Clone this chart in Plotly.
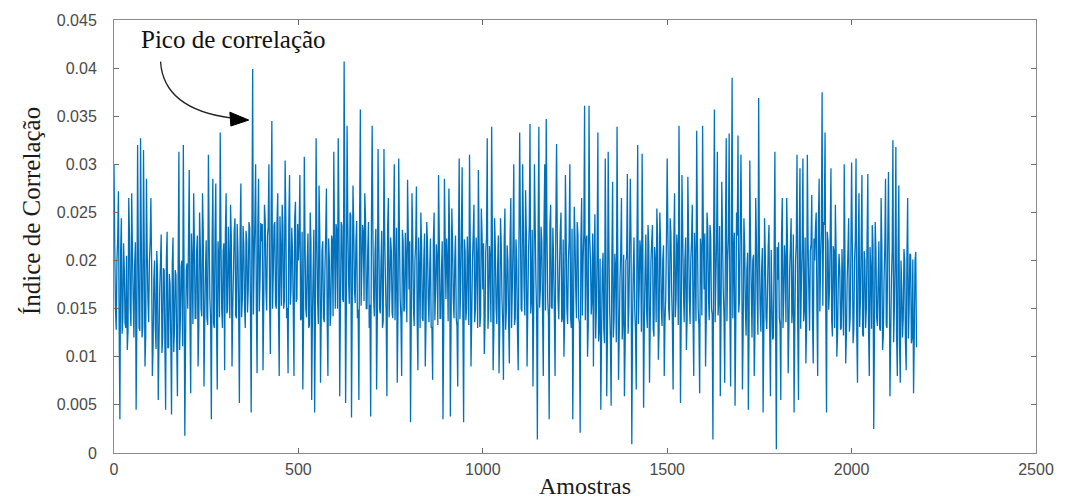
import plotly.graph_objects as go

# ---- data (in units of 1e-4) ----
# peaks / troughs every 4 samples
peaks_e4 = [
    # 0-96
    300,150,200,272,35,244,140,190,130,107,265,150,270,160,195,45,320,130,327,120,315,90,285,160,200,
    # 100-196
    265,80,180,130,210,55,170,227,120,190,45,230,110,175,40,224,130,185,59,313,140,200,320,18,190,
    # 200-296
    150,294,62,200,270,140,210,90,250,150,270,69,190,140,310,160,35,285,130,280,66,200,333,150,210,
    # 300-396
    86,270,150,200,258,90,190,244,140,210,52,280,160,215,130,220,170,234,42,399,200,300,83,285,180,
    # 400-496
    220,86,258,170,225,300,103,345,190,240,150,270,80,210,258,150,304,140,83,289,170,210,80,261,160,
    # 500-596
    200,289,140,66,308,150,200,130,250,55,190,42,327,160,278,73,210,140,190,275,80,200,145,220,313,
    # 600-696
    150,230,327,59,240,160,407,52,340,180,250,37,278,170,220,140,55,357,190,230,270,150,210,130,38,
    # 700-796
    340,160,210,66,316,150,200,130,316,180,59,265,170,210,140,300,190,73,306,160,80,220,150,200,284,
    # 800-896
    170,32,270,150,200,277,86,190,250,140,200,90,240,160,190,130,76,250,170,200,289,140,190,35,285,
    # 900-996
    160,200,275,38,254,160,200,140,69,306,170,297,32,210,150,190,310,90,200,258,150,200,294,131,254,
    # 1000-1096
    170,103,210,327,150,200,339,86,244,150,190,83,244,160,76,254,150,200,93,265,170,300,140,200,86,
    # 1100-1196
    333,150,300,170,273,90,210,342,160,69,300,180,14,339,170,220,80,300,347,160,35,258,150,200,80,
    # 1200-1296
    321,160,190,250,140,100,289,150,200,300,130,35,256,170,240,140,21,265,200,361,220,100,361,200,160,
    # 1300-1396
    90,248,150,333,130,45,190,130,306,59,313,150,49,282,140,190,339,76,180,265,140,59,200,290,150,
    # 1400-1496
    285,9,190,150,66,320,170,210,311,47,190,150,237,73,200,237,121,200,254,97,250,150,200,80,160,
    # 1500-1596
    306,150,244,170,66,270,160,210,340,52,289,170,200,107,287,160,200,258,80,200,335,150,62,210,340,
    # 1600-1696
    170,90,250,160,237,150,14,357,180,313,160,59,282,170,73,327,200,332,69,390,210,49,250,330,160,
    # 1700-1796
    310,66,244,150,190,45,304,170,200,80,265,160,369,150,190,42,244,140,170,237,59,160,120,313,4,
    # 1800-1896
    180,140,55,265,160,200,265,83,190,244,150,42,200,310,55,296,180,306,150,93,310,170,210,268,93,
    # 1900-1996
    200,250,80,285,200,375,240,333,42,220,170,296,121,210,258,100,180,189,130,170,300,93,180,244,140,
    # 2000-2096
    302,114,200,306,73,270,160,289,121,200,150,290,80,190,237,25,240,140,180,130,265,107,180,285,130,
    # 2100-2176
    292,59,180,325,150,318,80,278,73,170,140,200,86,265,150,206,120,62,200,110,
]
# dense core of the signal, the samples in between (2, 6, 10, ...)
core_e4 = [
    215,128,222,130,210,124,218,135,205,126,225,132,212,120,219,138,208,127,224,131,214,122,209,136,218,
    195,110,200,108,188,115,198,104,192,112,201,109,186,117,196,105,190,113,199,107,194,111,187,116,197,
    222,137,228,134,219,140,226,131,215,142,230,136,221,133,224,139,217,135,229,132,220,141,225,130,218,
    228,145,235,140,226,150,232,143,238,148,229,141,236,152,231,146,240,149,233,144,242,151,236,147,239,
    238,152,242,148,235,156,245,150,237,155,240,149,246,153,236,158,243,151,239,154,234,150,244,157,238,
    225,138,230,135,222,141,228,133,219,140,232,137,224,134,227,143,220,136,229,139,223,132,226,142,221,
    238,150,244,152,236,157,242,148,239,155,247,151,235,156,241,149,245,153,237,158,243,150,240,154,236,
    228,142,233,139,225,145,231,137,227,144,236,141,224,146,230,138,234,143,226,140,232,147,229,136,227,
    220,135,226,132,218,139,224,130,216,137,228,134,219,136,223,131,221,138,217,133,225,140,220,129,222,
    223,137,229,134,220,140,226,132,218,139,231,135,222,138,225,133,219,141,227,136,224,130,221,142,226,
    218,132,223,129,215,136,221,127,214,134,226,131,217,135,220,128,216,137,224,130,219,133,222,126,217,
    233,147,238,143,229,150,236,145,232,149,241,144,230,151,235,146,239,148,231,142,237,152,234,145,236,
    225,139,231,136,222,142,228,134,220,141,233,137,224,140,227,135,221,143,229,138,226,132,223,144,228,
    205,119,210,116,202,122,208,114,200,121,213,117,204,120,207,115,201,123,209,118,206,112,203,124,208,
    218,131,224,128,215,134,221,126,213,133,227,130,217,135,220,129,214,136,223,127,219,132,216,137,222,
    225,138,230,135,222,141,227,133,219,140,232,136,224,139,228,134,221,142,229,137,226,131,223,143,227,
    228,141,234,138,225,144,231,136,223,143,236,139,227,142,230,137,224,145,232,140,229,134,226,146,231,
    210,125,216,122,208,128,214,120,206,127,218,123,210,126,213,121,207,129,215,124,211,118,209,130,214,
    219,133,225,130,216,136,222,128,214,135,227,131,218,134,221,129,215,137,224,132,220,127,217,138,223,
    235,150,240,147,231,153,237,145,230,149,228,138,215,130,210,125,207,128,212,122,206,124,209,126,205,
    215,128,221,125,212,131,218,123,210,130,224,126,214,129,217,124,211,132,220,127,216,121,213,133,219,
    205,118,210,115,202,121,208,113,200,120,212,116,204,119,207,114,201,122,209,
]
sample_step = 2

samples, corr = [], []
for i, v in enumerate(peaks_e4):
    samples.append(len(samples) * sample_step)
    corr.append(v / 10000)
    if i < len(core_e4) and i < len(peaks_e4) - 1:
        samples.append(len(samples) * sample_step)
        corr.append(core_e4[i] / 10000)

x_ticks = [0, 500, 1000, 1500, 2000, 2500]
x_tick_text = ["0", "500", "1000", "1500", "2000", "2500"]
y_ticks = [0, 0.005, 0.01, 0.015, 0.02, 0.025, 0.03, 0.035, 0.04, 0.045]
y_tick_text = ["0", "0.005", "0.01", "0.015", "0.02", "0.025", "0.03", "0.035", "0.04", "0.045"]

x_title = "Amostras"
y_title = "Índice de Correlação"
note_text = "Pico de correlação"

# ---- layout geometry ----
W, H = 1066, 499
PL, PR, PT, PB = 114, 1045, 16, 453          # plot area in pixels
XR = [0, 2500]
YR = [0, 0.045]


def px_to_data(px, py):
    x = XR[0] + (px - PL) / (PR - PL) * (XR[1] - XR[0])
    y = YR[0] + (PB - py) / (PB - PT) * (YR[1] - YR[0])
    return x, y


def px_to_paper(px, py):
    return (px - PL) / (PR - PL), (PB - py) / (PB - PT)


fig = go.Figure()
fig.add_trace(go.Scatter(
    x=samples, y=corr, mode="lines",
    line=dict(color="#0072BD", width=1.3, simplify=False),
    hoverinfo="skip", showlegend=False,
))

axis_common = dict(
    showline=True, linecolor="#8a8a8a", linewidth=1, mirror="ticks",
    ticks="inside", ticklen=5, tickcolor="#6a6a6a", tickwidth=1,
    showgrid=False, zeroline=False,
    tickfont=dict(family="Liberation Sans, Arial", size=16, color="#4a4a4a"),
)
serif = "Liberation Serif, Times New Roman"

fig.update_xaxes(range=XR, tickvals=x_ticks, ticktext=x_tick_text,
                 ticklabelstandoff=2, **axis_common)
fig.update_yaxes(range=YR, tickvals=y_ticks, ticktext=y_tick_text,
                 ticklabelstandoff=13, **axis_common)

# axis titles
xt = px_to_paper(590, 486)
fig.add_annotation(x=xt[0], y=xt[1], xref="paper", yref="paper", text=x_title,
                   showarrow=False, xanchor="center", yanchor="middle",
                   font=dict(family=serif, size=24, color="#1a1a1a"))
yt = px_to_paper(30, 209)
fig.add_annotation(x=yt[0], y=yt[1], xref="paper", yref="paper", text=y_title,
                   showarrow=False, xanchor="center", yanchor="middle", textangle=-90,
                   font=dict(family=serif, size=25, color="#1a1a1a"))

# annotation text
tx, ty = px_to_data(235, 36)
fig.add_annotation(x=tx, y=ty, text=note_text, showarrow=False,
                   xanchor="center", yanchor="middle",
                   font=dict(family=serif, size=25, color="#111111"))

# curved arrow shaft
p0 = px_to_data(161, 58)
pc = px_to_data(164, 106)
p1 = px_to_data(233, 115)
fig.add_shape(type="path",
              path=f"M {p0[0]},{p0[1]} Q {pc[0]},{pc[1]} {p1[0]},{p1[1]}",
              xref="x", yref="y", line=dict(color="#222222", width=1.3))
# arrow head
h_tip = px_to_data(250, 117)
h_a = px_to_data(231, 109)
h_b = px_to_data(232, 123)
fig.add_shape(type="path",
              path=f"M {h_tip[0]},{h_tip[1]} L {h_a[0]},{h_a[1]} L {h_b[0]},{h_b[1]} Z",
              xref="x", yref="y", fillcolor="#000000", line=dict(color="#000000", width=1))

fig.update_layout(
    width=W, height=H,
    margin=dict(l=PL, r=W - PR, t=PT, b=H - PB, pad=0),
    paper_bgcolor="white", plot_bgcolor="white",
    showlegend=False,
)

fig.write_html(
    "out.html",
    config={"displayModeBar": False},
    post_script="document.body.style.margin='0px';document.body.style.overflow='hidden';",
)
